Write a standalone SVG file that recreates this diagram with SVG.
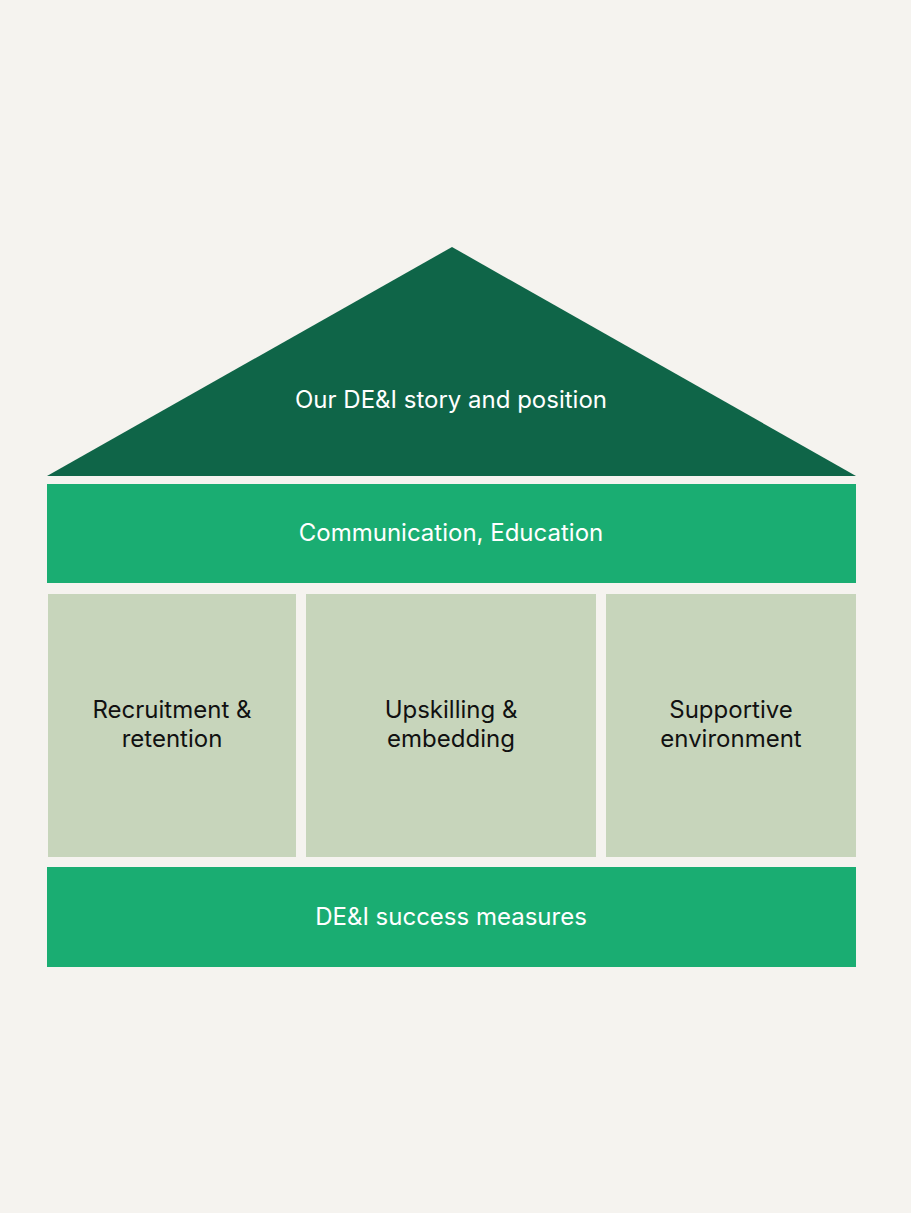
<svg xmlns="http://www.w3.org/2000/svg" width="911" height="1213" viewBox="0 0 911 1213">
<style>
text{font-family:Inter,"Noto Sans",sans-serif;font-size:24px;text-anchor:middle}
.w{fill:#ffffff}.d{fill:#111111}
.band{fill:#1aad72}.pil{fill:#c7d5bb}
</style>
<rect width="911" height="1213" fill="#f5f3ef"/>
<g id="roof"><polygon points="452,247 856,476 47,476" fill="#0f6548"/><text class="w" x="451" y="408">Our DE&amp;I story and position</text></g>
<g id="comm"><rect class="band" x="47" y="484" width="809" height="99"/><text class="w" x="451" y="541">Communication, Education</text></g>
<g id="p1"><rect class="pil" x="48" y="594" width="248" height="263"/><text class="d" x="172" y="718">Recruitment &amp;</text><text class="d" x="172" y="747">retention</text></g>
<g id="p2"><rect class="pil" x="306" y="594" width="290" height="263"/><text class="d" x="451" y="718">Upskilling &amp;</text><text class="d" x="451" y="747">embedding</text></g>
<g id="p3"><rect class="pil" x="606" y="594" width="250" height="263"/><text class="d" x="731" y="718">Supportive</text><text class="d" x="731" y="747">environment</text></g>
<g id="base"><rect class="band" x="47" y="867" width="809" height="100"/><text class="w" x="451" y="925">DE&amp;I success measures</text></g>
<g id="connectors"/>
</svg>
